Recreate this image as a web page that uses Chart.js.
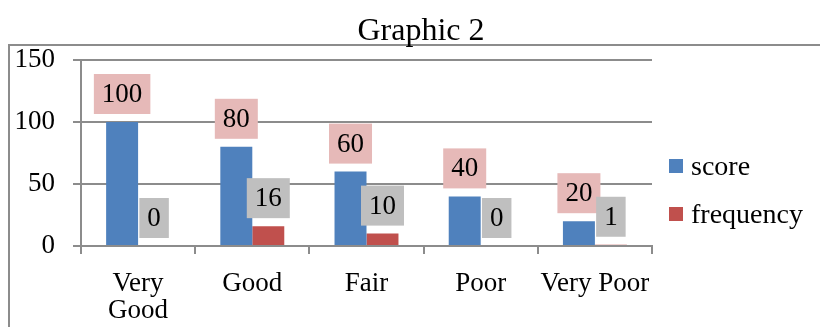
<!DOCTYPE html>
<html>
<head>
<meta charset="utf-8">
<script src="https://cdn.jsdelivr.net/npm/chart.js@4.4.1/dist/chart.umd.min.js"></script>
<style>
  html, body { margin: 0; padding: 0; background: #ffffff; }
  #wrap { position: relative; width: 820px; height: 327px; }
  #title {
    position: absolute; left: 0; top: 10px; width: 842px;
    text-align: center; color: #000000;
    font-family: "Liberation Serif", "Times New Roman", serif;
    font-size: 32px; line-height: 38px;
  }
  canvas { position: absolute; left: 0; top: 0; }
</style>
</head>
<body>
<div id="wrap">
  <canvas id="chart" width="820" height="327"></canvas>
  <div id="title">Graphic 2</div>
</div>
<script>
// Chart data
const categories = [["Very", "Good"], "Good", "Fair", "Poor", "Very Poor"];
const seriesNames = ["score", "frequency"];
const scoreValues = [100, 80, 60, 40, 20];
const frequencyValues = [0, 16, 10, 0, 1];
const yTickValues = [0, 50, 100, 150];

// Styling
const barColors = ["#4F81BD", "#C0504D"];
const labelBoxColors = ["#E6B9B8", "#BFBFBF"];
const lineGray = "#8C8C8C";
const serif = '"Liberation Serif", "Times New Roman", serif';

// Grey frame that encloses the plot and legend
const framePlugin = {
  id: "frame",
  beforeDraw(chart) {
    const ctx = chart.ctx;
    ctx.save();
    ctx.strokeStyle = lineGray;
    ctx.lineWidth = 2;
    ctx.strokeRect(9, 45, 900, 400);
    ctx.restore();
  }
};

// Value labels on filled boxes above each bar
const valueLabelPlugin = {
  id: "valueLabels",
  afterDatasetsDraw(chart) {
    const ctx = chart.ctx;
    ctx.save();
    ctx.font = "27px " + serif;
    ctx.textAlign = "center";
    ctx.textBaseline = "middle";
    chart.data.datasets.forEach((ds, i) => {
      const meta = chart.getDatasetMeta(i);
      meta.data.forEach((bar, j) => {
        const text = String(ds.data[j]);
        const w = ctx.measureText(text).width + 16;
        const h = 40;
        const bottom = bar.y - 8;
        ctx.fillStyle = labelBoxColors[i];
        ctx.fillRect(bar.x - w / 2, bottom - h, w, h);
        ctx.fillStyle = "#000000";
        ctx.fillText(text, bar.x, bottom - h / 2 + 1);
      });
    });
    ctx.restore();
  }
};

// Legend at the right of the plot
const sideLegendPlugin = {
  id: "sideLegend",
  afterDraw(chart) {
    const ctx = chart.ctx;
    const area = chart.chartArea;
    ctx.save();
    ctx.font = "28px " + serif;
    ctx.textAlign = "left";
    ctx.textBaseline = "middle";
    chart.data.datasets.forEach((ds, i) => {
      const cy = 166 + i * 48;
      const x = area.right + 17;
      ctx.fillStyle = ds.backgroundColor;
      ctx.fillRect(x, cy - 7, 14, 14);
      ctx.fillStyle = "#000000";
      ctx.fillText(ds.label, x + 22, cy + 2);
    });
    ctx.restore();
  }
};

new Chart(document.getElementById("chart"), {
  type: "bar",
  data: {
    labels: categories,
    datasets: [
      { label: seriesNames[0], data: scoreValues, backgroundColor: barColors[0] },
      { label: seriesNames[1], data: frequencyValues, backgroundColor: barColors[1] }
    ]
  },
  options: {
    responsive: false,
    animation: false,
    devicePixelRatio: 1,
    categoryPercentage: 0.56,
    barPercentage: 1.0,
    layout: { padding: { left: 8, right: 168, top: 60, bottom: 0 } },
    plugins: {
      legend: { display: false },
      tooltip: { enabled: false },
      title: { display: false }
    },
    scales: {
      x: {
        grid: { display: true, drawOnChartArea: false, drawTicks: true, tickLength: 8, color: lineGray, lineWidth: 2 },
        border: { display: true, color: lineGray, width: 2 },
        ticks: {
          color: "#000000",
          font: { family: serif, size: 27, lineHeight: 1.0 },
          padding: 16,
          maxRotation: 0,
          minRotation: 0,
          autoSkip: false
        },
        afterFit(scale) { scale.height = 81; }
      },
      y: {
        min: yTickValues[0],
        max: yTickValues[yTickValues.length - 1],
        grid: { color: lineGray, lineWidth: 2, drawTicks: true, tickLength: 8 },
        border: { display: true, color: lineGray, width: 2 },
        ticks: {
          stepSize: yTickValues[1] - yTickValues[0],
          color: "#000000",
          font: { family: serif, size: 27 },
          padding: 18
        },
        afterFit(scale) { scale.width = 73; }
      }
    }
  },
  plugins: [framePlugin, valueLabelPlugin, sideLegendPlugin]
});
</script>
</body>
</html>
